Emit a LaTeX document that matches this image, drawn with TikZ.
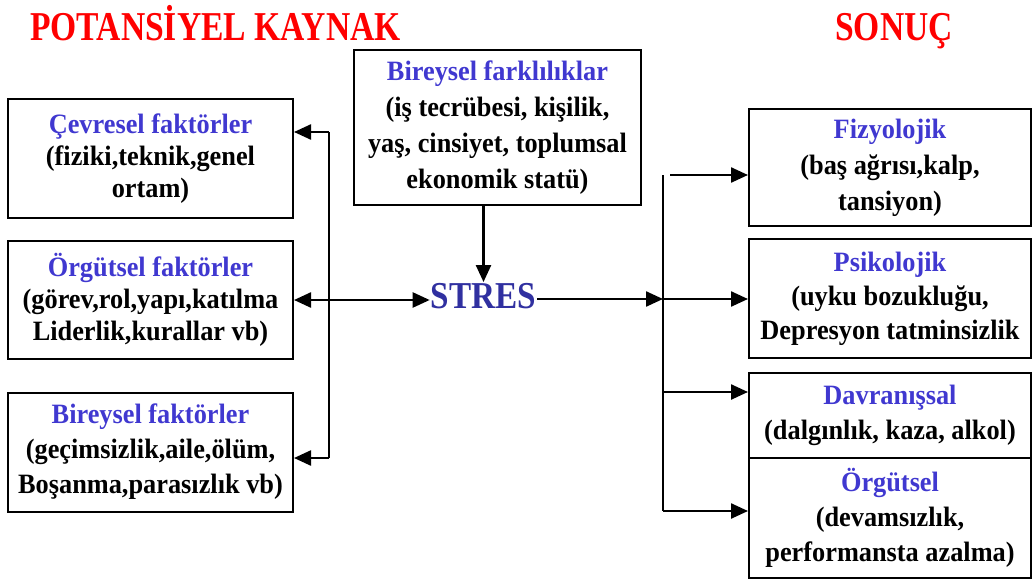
\documentclass[tikz,border=0pt]{standalone}
\usepackage{fontspec}
\setmainfont{Liberation Serif}[FakeStretch=0.94]
\usetikzlibrary{arrows.meta}
\definecolor{titlered}{RGB}{255,0,0}
\definecolor{headblue}{RGB}{64,56,208}
\definecolor{stresblue}{RGB}{48,48,160}
\newcommand{\headtxt}[1]{\textcolor{headblue}{#1}}
\begin{document}
\begin{tikzpicture}[x=1pt,y=-1pt,
  boxstyle/.style={draw, line width=2pt, align=center, inner sep=0pt,
    font=\fontsize{28}{32}\selectfont\bfseries},
  titlestyle/.style={inner sep=0pt, anchor=base, text=titlered,
    font=\fontsize{41}{44}\selectfont\bfseries},
  conn/.style={line width=2.4pt},
  arr/.style={conn, -{Triangle[length=17pt,width=15pt]}},
  darr/.style={conn, {Triangle[length=17pt,width=15pt]}-{Triangle[length=17pt,width=15pt]}}]
\useasboundingbox (0,0) rectangle (1033,581);
% titles
\node[titlestyle] (t1) at (215.5,40) {\scalebox{0.872}[1]{POTANSİYEL KAYNAK}};
\node[titlestyle] (t2) at (894,40) {\scalebox{0.872}[1]{SONUÇ}};
% left boxes
\node[boxstyle, minimum width=285pt, minimum height=119pt] (L1) at (150.5,158.5)
  {\headtxt{Çevresel faktörler}\\(fiziki,teknik,genel\\ortam)};
\node[boxstyle, minimum width=285pt, minimum height=118pt] (L2) at (150.5,300)
  {\headtxt{Örgütsel faktörler}\\(görev,rol,yapı,katılma\\Liderlik,kurallar vb)};
\node[boxstyle, minimum width=285pt, minimum height=119pt, font=\fontsize{28}{35}\selectfont\bfseries] (L3) at (150.5,452)
  {\headtxt{Bireysel faktörler}\\(geçimsizlik,aile,ölüm,\\Boşanma,parasızlık vb)};
% middle box
\node[boxstyle, minimum width=287pt, minimum height=155pt,
  font=\fontsize{28}{36}\selectfont\bfseries] (M) at (497.5,127.5)
  {\headtxt{Bireysel farklılıklar}\\(iş tecrübesi, kişilik,\\yaş, cinsiyet, toplumsal\\ekonomik statü)};
% stres
\node[inner sep=1pt, text=stresblue, font=\fontsize{38}{40}\selectfont\bfseries] (S) at (483.5,296)
  {\scalebox{0.93}[1]{STRES}};
% right boxes
\node[boxstyle, minimum width=282pt, minimum height=117pt, font=\fontsize{28}{36}\selectfont\bfseries] (R1) at (890,167.5)
  {\headtxt{Fizyolojik}\\(baş ağrısı,kalp,\\tansiyon)};
\node[boxstyle, minimum width=282pt, minimum height=119pt, font=\fontsize{28}{34}\selectfont\bfseries] (R2) at (890,298.5)
  {\headtxt{Psikolojik}\\(uyku bozukluğu,\\Depresyon tatminsizlik};
\node[boxstyle, minimum width=282pt, minimum height=85pt, font=\fontsize{28}{35}\selectfont\bfseries] (R3) at (890,415.5)
  {\headtxt{Davranışsal}\\(dalgınlık, kaza, alkol)};
\node[boxstyle, minimum width=282pt, minimum height=120pt, font=\fontsize{28}{35}\selectfont\bfseries] (R4) at (890,518)
  {\headtxt{Örgütsel}\\(devamsızlık,\\performansta azalma)};
% left bus
\coordinate (b1) at (329,132);
\coordinate (b3) at (329,458);
\draw[conn] (b1) -- (b3);
\draw[arr] (b1) -- (b1 -| L1.east);
\draw[arr] (b3) -- (b3 -| L3.east);
\draw[darr] (L2.east) -- (L2.east -| S.west);
% middle down
\draw[arr] (S.north |- M.south) -- (S.north);
% right bus
\coordinate (rtop) at (663,175);
\coordinate (rmid) at (663,299);
\coordinate (r3) at (663,392);
\coordinate (rbot) at (663,511);
\coordinate (r1s) at (670,175);
\draw[conn] (rtop) -- (rbot);
\draw[arr] (S.east |- rmid) -- (rmid);
\draw[arr] (r1s) -- (r1s -| R1.west);
\draw[arr] (rmid) -- (rmid -| R2.west);
\draw[arr] (r3) -- (r3 -| R3.west);
\draw[arr] (rbot) -- (rbot -| R4.west);
\end{tikzpicture}
\end{document}
